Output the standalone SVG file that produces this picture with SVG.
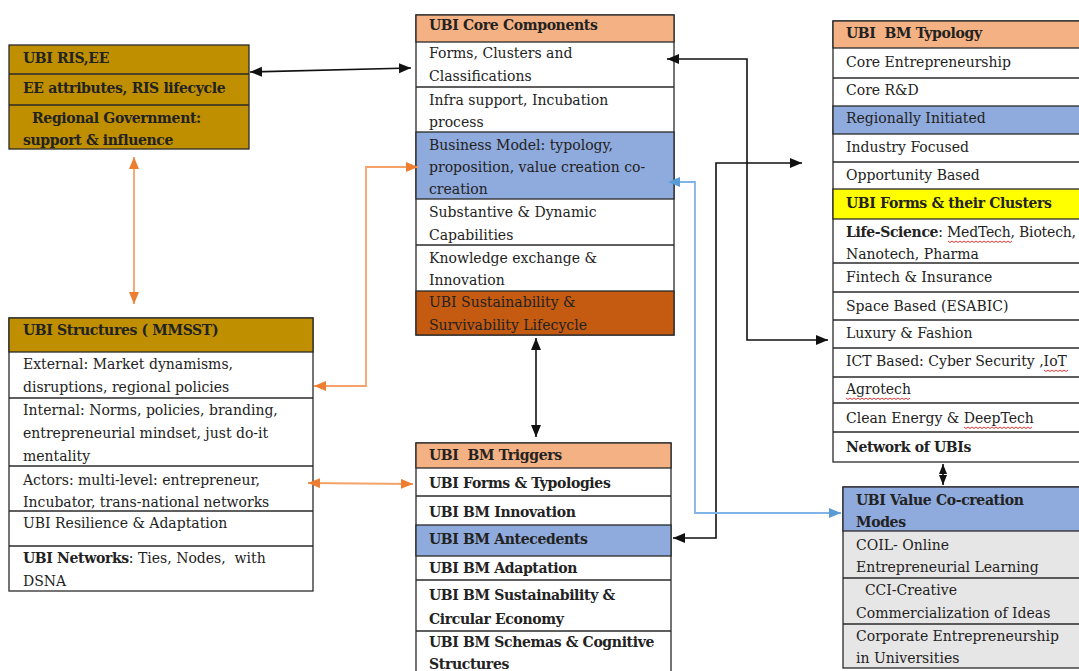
<svg xmlns="http://www.w3.org/2000/svg" width="1079" height="671" viewBox="0 0 1079 671">
<style>
.t{font-family:"DejaVu Serif","Liberation Serif",serif;font-size:14px;fill:#222;white-space:pre}
.b{font-weight:bold;letter-spacing:-0.35px}
.box{stroke:#2a2a2a;stroke-width:1.3}
.gold{fill:#BF8F00}
.sal{fill:#F4B183}
.blu{fill:#8FAADC}
.rust{fill:#C55A11}
.yel{fill:#FFFF00}
.wh{fill:#FFFFFF}
.gr{fill:#E7E6E6}
.ln{stroke:#2a2a2a;stroke-width:1.3}
.blk{fill:none;stroke:#111;stroke-width:1.6}
.org{fill:none;stroke:#F4A26A;stroke-width:1.8}
.blue{fill:none;stroke:#80B4E6;stroke-width:1.8}
.sq{fill:none;stroke:#E02020;stroke-width:0.9}
</style>
<defs>
<marker id="ab" markerUnits="userSpaceOnUse" markerWidth="13" markerHeight="11" refX="12" refY="5" orient="auto-start-reverse"><path d="M0,0 L12,5 L0,10 z" fill="#111"/></marker>
<marker id="ao" markerUnits="userSpaceOnUse" markerWidth="13" markerHeight="11" refX="12" refY="5" orient="auto-start-reverse"><path d="M0,0 L12,5 L0,10 z" fill="#ED7D31"/></marker>
<marker id="al" markerUnits="userSpaceOnUse" markerWidth="13" markerHeight="11" refX="12" refY="5" orient="auto-start-reverse"><path d="M0,0 L12,5 L0,10 z" fill="#5B9BD5"/></marker>
<marker id="ad" markerUnits="userSpaceOnUse" markerWidth="11" markerHeight="9" refX="10" refY="4" orient="auto-start-reverse"><path d="M0,0 L10,4 L0,8 z" fill="#111"/></marker>
</defs>

<g id="ris-ee">
<rect class="box gold" x="9" y="45" width="240" height="104"/>
<line class="ln" x1="9" y1="74" x2="249" y2="74"/>
<line class="ln" x1="9" y1="105" x2="249" y2="105"/>
<text class="t b" x="23" y="63">UBI RIS,EE</text>
<text class="t b" x="23" y="93">EE attributes, RIS lifecycle</text>
<text class="t b" x="23" y="123">  Regional Government:</text>
<text class="t b" x="23" y="145">support &amp; influence</text>
</g>

<g id="structures">
<rect class="box wh" x="9" y="318" width="304" height="273"/>
<rect class="box gold" x="9" y="318" width="304" height="34"/>
<line class="ln" x1="9" y1="398" x2="313" y2="398"/>
<line class="ln" x1="9" y1="466" x2="313" y2="466"/>
<line class="ln" x1="9" y1="511" x2="313" y2="511"/>
<line class="ln" x1="9" y1="546" x2="313" y2="546"/>
<text class="t b" x="23" y="335">UBI Structures ( MMSST)</text>
<text class="t" x="23" y="369">External: Market dynamisms,</text>
<text class="t" x="23" y="392">disruptions, regional policies</text>
<text class="t" x="23" y="415">Internal: Norms, policies, branding,</text>
<text class="t" x="23" y="438">entrepreneurial mindset, just do-it</text>
<text class="t" x="23" y="461">mentality</text>
<text class="t" x="23" y="485">Actors: multi-level: entrepreneur,</text>
<text class="t" x="23" y="507">Incubator, trans-national networks</text>
<text class="t" x="23" y="528">UBI Resilience &amp; Adaptation</text>
<text class="t" x="23" y="563"><tspan class="b">UBI Networks</tspan>: Ties, Nodes,  with</text>
<text class="t" x="23" y="586">DSNA</text>
</g>

<g id="core-components">
<rect class="box wh" x="416" y="15" width="258" height="320"/>
<rect class="box sal" x="416" y="15" width="258" height="27"/>
<rect class="box blu" x="416" y="132" width="258" height="67"/>
<rect class="box rust" x="416" y="291" width="258" height="44"/>
<line class="ln" x1="416" y1="87" x2="674" y2="87"/>
<line class="ln" x1="416" y1="245" x2="674" y2="245"/>
<text class="t b" x="429" y="30">UBI Core Components</text>
<text class="t" x="429" y="58">Forms, Clusters and</text>
<text class="t" x="429" y="81">Classifications</text>
<text class="t" x="429" y="105">Infra support, Incubation</text>
<text class="t" x="429" y="127">process</text>
<text class="t" x="429" y="150">Business Model: typology,</text>
<text class="t" x="429" y="172">proposition, value creation co-</text>
<text class="t" x="429" y="194">creation</text>
<text class="t" x="429" y="217">Substantive &amp; Dynamic</text>
<text class="t" x="429" y="240">Capabilities</text>
<text class="t" x="429" y="263">Knowledge exchange &amp;</text>
<text class="t" x="429" y="285">Innovation</text>
<text class="t" x="429" y="307">UBI Sustainability &amp;</text>
<text class="t" x="429" y="330">Survivability Lifecycle</text>
</g>

<g id="bm-typology">
<rect class="box wh" x="833" y="21" width="260" height="441"/>
<rect class="box sal" x="833" y="21" width="260" height="27"/>
<rect class="box blu" x="833" y="106" width="260" height="28"/>
<rect class="box yel" x="833" y="189" width="260" height="30"/>
<line class="ln" x1="833" y1="78" x2="1093" y2="78"/>
<line class="ln" x1="833" y1="162" x2="1093" y2="162"/>
<line class="ln" x1="833" y1="263" x2="1093" y2="263"/>
<line class="ln" x1="833" y1="292" x2="1093" y2="292"/>
<line class="ln" x1="833" y1="320" x2="1093" y2="320"/>
<line class="ln" x1="833" y1="348" x2="1093" y2="348"/>
<line class="ln" x1="833" y1="377" x2="1093" y2="377"/>
<line class="ln" x1="833" y1="403" x2="1093" y2="403"/>
<line class="ln" x1="833" y1="432" x2="1093" y2="432"/>
<text class="t b" x="846" y="38">UBI  BM Typology</text>
<text class="t" x="846" y="67">Core Entrepreneurship</text>
<text class="t" x="846" y="95">Core R&amp;D</text>
<text class="t" x="846" y="123">Regionally Initiated</text>
<text class="t" x="846" y="152">Industry Focused</text>
<text class="t" x="846" y="180">Opportunity Based</text>
<text class="t b" x="846" y="208">UBI Forms &amp; their Clusters</text>
<text class="t" x="846" y="237" letter-spacing="-0.2"><tspan class="b">Life-Science</tspan>: MedTech, Biotech,</text>
<text class="t" x="846" y="259">Nanotech, Pharma</text>
<text class="t" x="846" y="282">Fintech &amp; Insurance</text>
<text class="t" x="846" y="311">Space Based (ESABIC)</text>
<text class="t" x="846" y="338">Luxury &amp; Fashion</text>
<text class="t" x="846" y="366">ICT Based: Cyber Security ,IoT</text>
<text class="t" x="846" y="394">Agrotech</text>
<text class="t" x="846" y="423">Clean Energy &amp; DeepTech</text>
<text class="t b" x="846" y="452">Network of UBIs</text>
<path class="sq" d="M948,241 l2,1.5 l2,-1.5 l2,1.5 l2,-1.5 l2,1.5 l2,-1.5 l2,1.5 l2,-1.5 l2,1.5 l2,-1.5 l2,1.5 l2,-1.5 l2,1.5 l2,-1.5 l2,1.5 l2,-1.5 l2,1.5 l2,-1.5 l2,1.5 l2,-1.5 l2,1.5 l2,-1.5 l2,1.5 l2,-1.5 l2,1.5 l2,-1.5 l2,1.5 l2,-1.5 l2,1.5 l2,-1.5 l2,1.5 l2,-1.5"/>
<path class="sq" d="M1044,370 l2,1.5 l2,-1.5 l2,1.5 l2,-1.5 l2,1.5 l2,-1.5 l2,1.5 l2,-1.5 l2,1.5 l2,-1.5 l2,1.5 l2,-1.5"/>
<path class="sq" d="M846,398 l2,1.5 l2,-1.5 l2,1.5 l2,-1.5 l2,1.5 l2,-1.5 l2,1.5 l2,-1.5 l2,1.5 l2,-1.5 l2,1.5 l2,-1.5 l2,1.5 l2,-1.5 l2,1.5 l2,-1.5 l2,1.5 l2,-1.5 l2,1.5 l2,-1.5 l2,1.5 l2,-1.5 l2,1.5 l2,-1.5 l2,1.5 l2,-1.5 l2,1.5 l2,-1.5 l2,1.5 l2,-1.5 l2,1.5 l2,-1.5"/>
<path class="sq" d="M964,427 l2,1.5 l2,-1.5 l2,1.5 l2,-1.5 l2,1.5 l2,-1.5 l2,1.5 l2,-1.5 l2,1.5 l2,-1.5 l2,1.5 l2,-1.5 l2,1.5 l2,-1.5 l2,1.5 l2,-1.5 l2,1.5 l2,-1.5 l2,1.5 l2,-1.5 l2,1.5 l2,-1.5 l2,1.5 l2,-1.5 l2,1.5 l2,-1.5 l2,1.5 l2,-1.5 l2,1.5 l2,-1.5 l2,1.5 l2,-1.5 l2,1.5 l2,-1.5"/>
</g>

<g id="bm-triggers">
<rect class="box wh" x="416" y="443" width="255" height="240"/>
<rect class="box sal" x="416" y="443" width="255" height="25"/>
<rect class="box blu" x="416" y="525" width="255" height="31"/>
<line class="ln" x1="416" y1="496" x2="671" y2="496"/>
<line class="ln" x1="416" y1="580" x2="671" y2="580"/>
<line class="ln" x1="416" y1="631" x2="671" y2="631"/>
<text class="t b" x="429" y="460">UBI  BM Triggers</text>
<text class="t b" x="429" y="488">UBI Forms &amp; Typologies</text>
<text class="t b" x="429" y="517">UBI BM Innovation</text>
<text class="t b" x="429" y="544">UBI BM Antecedents</text>
<text class="t b" x="429" y="573">UBI BM Adaptation</text>
<text class="t b" x="429" y="600">UBI BM Sustainability &amp;</text>
<text class="t b" x="429" y="624">Circular Economy</text>
<text class="t b" x="429" y="647">UBI BM Schemas &amp; Cognitive</text>
<text class="t b" x="429" y="669">Structures</text>
</g>

<g id="value-cocreation">
<rect class="box gr" x="843" y="487" width="250" height="181"/>
<rect class="box blu" x="843" y="487" width="250" height="44"/>
<line class="ln" x1="843" y1="578" x2="1093" y2="578"/>
<line class="ln" x1="843" y1="624" x2="1093" y2="624"/>
<text class="t b" x="856" y="505">UBI Value Co-creation</text>
<text class="t b" x="856" y="527">Modes</text>
<text class="t" x="856" y="550">COIL- Online</text>
<text class="t" x="856" y="572">Entrepreneurial Learning</text>
<text class="t" x="856" y="595">  CCI-Creative</text>
<text class="t" x="856" y="618">Commercialization of Ideas</text>
<text class="t" x="856" y="641">Corporate Entrepreneurship</text>
<text class="t" x="856" y="663">in Universities</text>
</g>

<g id="connectors">
<line class="blk" x1="250" y1="72" x2="411" y2="68" marker-start="url(#ab)" marker-end="url(#ab)"/>
<line class="org" x1="134" y1="157" x2="134" y2="304" marker-start="url(#ao)" marker-end="url(#ao)"/>
<polyline class="org" points="314,386 366,386 366,167 418,167" marker-start="url(#ao)" marker-end="url(#ao)"/>
<line class="org" x1="308" y1="483" x2="413" y2="484" marker-start="url(#ao)" marker-end="url(#ao)"/>
<line class="blk" x1="536" y1="338" x2="536" y2="437" marker-start="url(#ab)" marker-end="url(#ab)"/>
<polyline class="blk" points="667,59 747,59 747,340 828,340" marker-start="url(#ab)" marker-end="url(#ab)"/>
<polyline class="blk" points="802,163 716,163 716,538 673,538" marker-start="url(#ab)" marker-end="url(#ab)"/>
<polyline class="blue" points="668,182 695,182 695,513 841,513" marker-start="url(#al)" marker-end="url(#al)"/>
<line class="blk" x1="943" y1="464" x2="943" y2="485" marker-start="url(#ad)" marker-end="url(#ad)"/>
</g>
</svg>
